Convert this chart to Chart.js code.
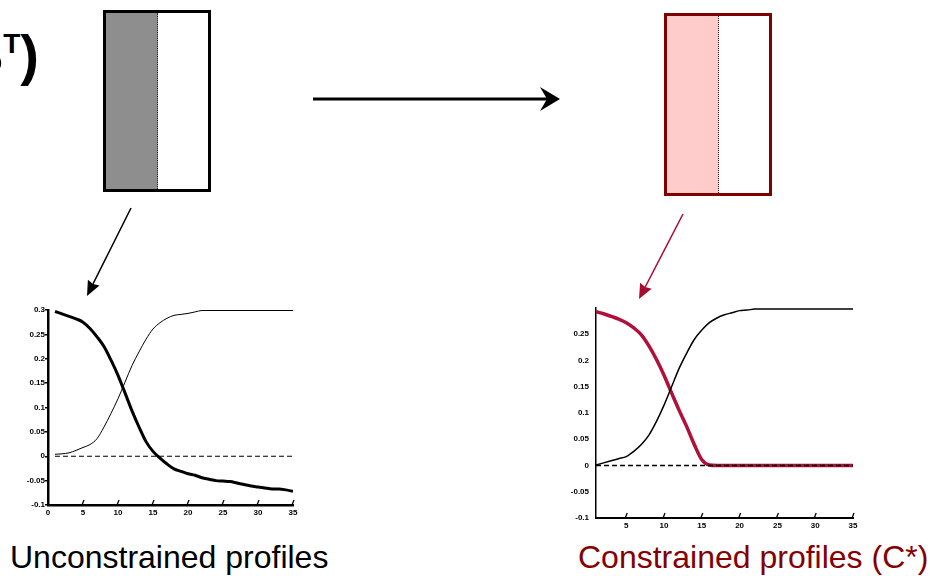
<!DOCTYPE html>
<html>
<head>
<meta charset="utf-8">
<script src="https://cdn.jsdelivr.net/npm/chart.js@4.4.1/dist/chart.umd.min.js"></script>
<style>
    html, body {
        margin: 0;
        padding: 0;
        background: #ffffff;
    }
    body {
        position: relative;
        width: 932px;
        height: 576px;
        overflow: hidden;
        font-family: Arial, "Liberation Sans", sans-serif;
    }
    .abs { position: absolute; }
    .matrix {
        box-sizing: border-box;
        border: 3px solid #000000;
        background: #ffffff;
    }
    .matrix .fill {
        position: absolute;
        left: 0;
        top: 0;
        bottom: 0;
        width: 51px;
        border-right: 1px dotted #222222;
    }
    .caption {
        font-size: 32px;
        line-height: 32px;
        white-space: nowrap;
    }
    canvas { position: absolute; }
</style>
</head>
<body>

<!-- matrix factor label, partly cut by the left page edge -->
<div class="abs" style="right: 893px; top: 27px; font-size: 56px; line-height: 56px; font-weight: bold; white-space: nowrap;">S<span style="font-size: 28px; position: relative; top: -21px;">T</span>)</div>

<!-- unconstrained / constrained matrix blocks -->
<div class="abs matrix" style="left: 103px; top: 10px; width: 108px; height: 182px;">
    <div class="fill" style="background: #8e8e8e;"></div>
</div>
<div class="abs matrix" style="left: 664px; top: 13px; width: 108px; height: 183px; border-color: #800000;">
    <div class="fill" style="background: #ffcccc;"></div>
</div>

<svg id="arrows" class="abs" width="932" height="576" style="left: 0; top: 0;"></svg>

<canvas id="chart-unconstrained" width="310" height="230" style="left: 0px; top: 295px;"></canvas>
<canvas id="chart-constrained" width="330" height="240" style="left: 540px; top: 295px;"></canvas>

<div class="abs caption" style="left: 10px; top: 541px; color: #000000;">Unconstrained profiles</div>
<div class="abs caption" style="left: 578px; top: 541px; color: #850000;">Constrained profiles (C*)</div>

<script>
// Profile index (1..35)
const steps = [1, 2, 3, 4, 5, 6, 7, 8, 9, 10, 11, 12, 13, 14, 15, 16, 17, 18,
    19, 20, 21, 22, 23, 24, 25, 26, 27, 28, 29, 30, 31, 32, 33, 34, 35];

// Unconstrained profiles
const freeDecay = [0.297, 0.292, 0.287, 0.282, 0.275, 0.262, 0.245, 0.225, 0.197, 0.166,
    0.130, 0.093, 0.060, 0.030, 0.010, -0.004, -0.016, -0.026, -0.031, -0.036,
    -0.039, -0.044, -0.047, -0.050, -0.051, -0.052, -0.055, -0.058, -0.061, -0.063,
    -0.065, -0.067, -0.067, -0.069, -0.072];
const freeRise = [0.004, 0.005, 0.007, 0.012, 0.018, 0.024, 0.036, 0.060, 0.088, 0.118,
    0.152, 0.186, 0.214, 0.240, 0.261, 0.274, 0.283, 0.289, 0.291, 0.293,
    0.296, 0.299, 0.299, 0.299, 0.299, 0.299, 0.299, 0.299, 0.299, 0.299,
    0.299, 0.299, 0.299, 0.299, 0.299];

// Constrained profiles (non-negative)
const fixedDecay = [0.293, 0.289, 0.284, 0.279, 0.272, 0.262, 0.249, 0.228, 0.202, 0.172,
    0.138, 0.105, 0.074, 0.040, 0.011, 0.001, 0, 0, 0, 0,
    0, 0, 0, 0, 0, 0, 0, 0, 0, 0,
    0, 0, 0, 0, 0];
const fixedRise = [0.001, 0.005, 0.009, 0.013, 0.017, 0.027, 0.040, 0.058, 0.084, 0.115,
    0.150, 0.185, 0.214, 0.240, 0.258, 0.272, 0.281, 0.287, 0.291, 0.295,
    0.296, 0.298, 0.298, 0.298, 0.298, 0.298, 0.298, 0.298, 0.298, 0.298,
    0.298, 0.298, 0.298, 0.298, 0.298];

// Zero reference line
const zeroX = [1, 35];
const zeroY = [0, 0];

// Axis ticks
const leftXTicks = [0, 5, 10, 15, 20, 25, 30, 35];
const leftYTicks = [-0.1, -0.05, 0, 0.05, 0.1, 0.15, 0.2, 0.25, 0.3];
const rightXTicks = [5, 10, 15, 20, 25, 30, 35];
const rightYTicks = [-0.1, -0.05, 0, 0.05, 0.1, 0.15, 0.2, 0.25];

const tickFont = { family: 'Arial, "Liberation Sans", sans-serif', size: 8, weight: 'bold' };

const toPoints = (xs, ys) => xs.map((x, i) => ({ x: x, y: ys[i] }));
const fmt = v => String(Number(v.toFixed(2)));

// short slanted tick marks drawn inside the plot, on the x axis
const innerTicks = {
    id: 'innerTicks',
    afterDatasetsDraw(chart) {
        const { ctx, chartArea, scales } = chart;
        const x = scales.x;
        ctx.save();
        ctx.strokeStyle = '#000000';
        ctx.lineWidth = 1.3;
        x.ticks.forEach(t => {
            if (t.value === x.min) return;
            const px = x.getPixelForValue(t.value);
            ctx.beginPath();
            ctx.moveTo(px - 1, chartArea.bottom);
            ctx.lineTo(px + 1, chartArea.bottom - 5);
            ctx.stroke();
        });
        ctx.restore();
    }
};

function lineSet(xs, ys, color, width, dash) {
    return {
        data: toPoints(xs, ys),
        borderColor: color,
        borderWidth: width,
        borderDash: dash || [],
        pointRadius: 0,
        cubicInterpolationMode: 'monotone',
        fill: false
    };
}

function makeChart(id, cfg) {
    return new Chart(document.getElementById(id), {
        type: 'line',
        data: { datasets: cfg.datasets },
        options: {
            responsive: false,
            animation: false,
            devicePixelRatio: 1,
            layout: { padding: cfg.padding },
            plugins: {
                legend: { display: false },
                tooltip: { enabled: false }
            },
            scales: {
                x: {
                    type: 'linear',
                    min: cfg.xMin,
                    max: 35,
                    afterBuildTicks: s => { s.ticks = cfg.xTicks.map(v => ({ value: v })); },
                    afterFit: s => { s.height = cfg.xHeight; },
                    grid: { display: false, drawTicks: false },
                    border: { display: true, color: '#000000', width: cfg.xBorder },
                    ticks: {
                        color: '#000000',
                        font: tickFont,
                        padding: 3,
                        maxRotation: 0,
                        autoSkip: false
                    }
                },
                y: {
                    type: 'linear',
                    min: -0.1,
                    max: 0.3,
                    afterBuildTicks: s => { s.ticks = cfg.yTicks.map(v => ({ value: v })); },
                    afterFit: s => { s.width = cfg.yWidth; },
                    grid: {
                        display: cfg.yTickLength > 0,
                        drawOnChartArea: false,
                        drawTicks: true,
                        tickLength: cfg.yTickLength,
                        color: '#000000',
                        lineWidth: 1.5
                    },
                    border: { display: true, color: '#000000', width: cfg.yBorder },
                    ticks: {
                        color: '#000000',
                        font: tickFont,
                        padding: cfg.yPad,
                        autoSkip: false,
                        callback: v => fmt(v)
                    }
                }
            }
        },
        plugins: [innerTicks]
    });
}

makeChart('chart-unconstrained', {
    datasets: [
        lineSet(zeroX, zeroY, '#000000', 1.2, [5, 3]),
        lineSet(steps, freeRise, '#000000', 1),
        lineSet(steps, freeDecay, '#000000', 3)
    ],
    padding: { top: 15, right: 17, bottom: 0, left: 0 },
    xMin: 0,
    xTicks: leftXTicks,
    yTicks: leftYTicks,
    xHeight: 20,
    yWidth: 48,
    xBorder: 2.5,
    yBorder: 2.5,
    yTickLength: 3,
    yPad: 0
});

makeChart('chart-constrained', {
    datasets: [
        lineSet(zeroX, zeroY, '#000000', 1.5, [5, 3]),
        lineSet(steps, fixedRise, '#000000', 1.5),
        lineSet(steps, fixedDecay, '#b0103a', 3.5)
    ],
    padding: { top: 13, right: 17, bottom: 0, left: 0 },
    xMin: 1,
    xTicks: rightXTicks,
    yTicks: rightYTicks,
    xHeight: 17,
    yWidth: 56,
    xBorder: 2,
    yBorder: 1.5,
    yTickLength: 0,
    yPad: 7
});

// connector arrows between the matrix blocks and the plots
function arrow(svg, x1, y1, x2, y2, color, width, headLen, headHalf, notch) {
    const ns = 'http://www.w3.org/2000/svg';
    const dx = x2 - x1, dy = y2 - y1;
    const len = Math.hypot(dx, dy);
    const ux = dx / len, uy = dy / len;
    const px = -uy, py = ux;
    const bx = x2 - ux * headLen, by = y2 - uy * headLen;
    const nx = x2 - ux * headLen * (1 - notch), ny = y2 - uy * headLen * (1 - notch);

    const line = document.createElementNS(ns, 'line');
    line.setAttribute('x1', x1);
    line.setAttribute('y1', y1);
    line.setAttribute('x2', nx);
    line.setAttribute('y2', ny);
    line.setAttribute('stroke', color);
    line.setAttribute('stroke-width', width);
    svg.appendChild(line);

    const head = document.createElementNS(ns, 'polygon');
    head.setAttribute('points', [
        [x2, y2],
        [bx + px * headHalf, by + py * headHalf],
        [nx, ny],
        [bx - px * headHalf, by - py * headHalf]
    ].map(p => p.join(',')).join(' '));
    head.setAttribute('fill', color);
    svg.appendChild(head);
}

const svg = document.getElementById('arrows');
arrow(svg, 313, 99, 560, 99, '#000000', 3, 20, 12, 0.35);
arrow(svg, 131, 208, 87, 296, '#000000', 1.5, 15, 6.5, 0.1);
arrow(svg, 683, 214, 639, 299, '#a50d30', 1.5, 15, 6.5, 0.1);
</script>
</body>
</html>
